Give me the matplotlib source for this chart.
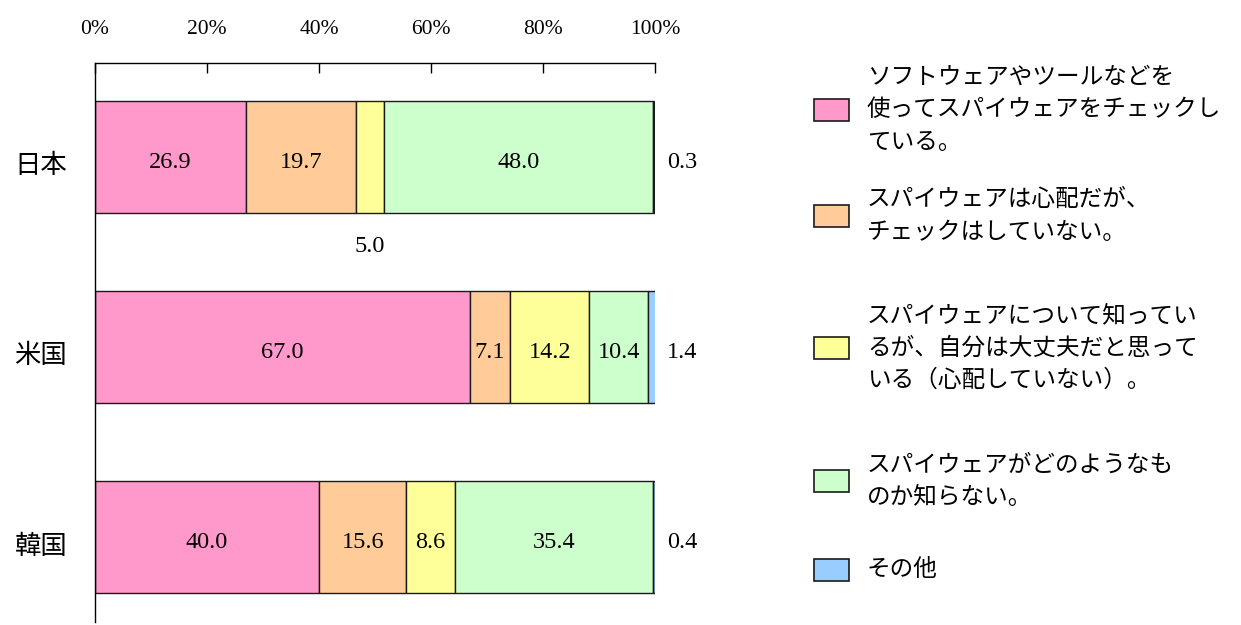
import matplotlib.pyplot as plt
import matplotlib.transforms as mtransforms
from matplotlib.patches import Rectangle
import numpy as np

plt.rcParams['font.family'] = ['Noto Sans CJK JP', 'DejaVu Sans']

countries = ['日本', '米国', '韓国']
categories = ['ソフトウェアやツールなどを\n使ってスパイウェアをチェックし\nている。',
              'スパイウェアは心配だが、\nチェックはしていない。',
              'スパイウェアについて知ってい\nるが、自分は大丈夫だと思って\nいる（心配していない）。',
              'スパイウェアがどのようなも\nのか知らない。',
              'その他']
colors = ['#FF99CC', '#FFCC99', '#FFFF99', '#CCFFCC', '#99CCFF']
values = np.array([
    [26.9, 19.7, 5.0, 48.0, 0.3],
    [67.0, 7.1, 14.2, 10.4, 1.4],
    [40.0, 15.6, 8.6, 35.4, 0.4],
])
xticks = [0, 20, 40, 60, 80, 100]
xticklabels = ['0%', '20%', '40%', '60%', '80%', '100%']

serif = 'Liberation Serif'

fig = plt.figure(figsize=(12.41, 6.25), dpi=100)
ax = fig.add_axes([95 / 1241, 3 / 625, 560 / 1241, 559 / 625])

y = np.arange(len(countries))
left = np.zeros(len(countries))
dy = 0.03  # digits sit a little below the bar centre
for j in range(len(categories)):
    ax.barh(y, values[:, j], left=left, height=0.59, color=colors[j],
            edgecolor='#1a1a1a', linewidth=1.0)
    for i in range(len(countries)):
        v = values[i, j]
        cx = left[i] + v / 2
        if j == 4:
            ax.text(102.2, y[i] + dy, f'{v:.1f}', ha='left', va='center',
                    fontsize=17.5, family=serif)
        elif i == 0 and j == 2:
            ax.text(cx, y[i] + 0.47, f'{v:.1f}', ha='center', va='center',
                    fontsize=17.5, family=serif)
        else:
            ax.text(cx, y[i] + dy, f'{v:.1f}', ha='center', va='center',
                    fontsize=17.5, family=serif)
    left += values[:, j]

ax.set_xlim(0, 100)
ax.set_ylim(2.446, -0.493)
ax.xaxis.tick_top()
ax.set_xticks(xticks)
ax.set_xticklabels(xticklabels, family=serif, fontsize=15.5)
ax.tick_params(axis='x', direction='in', length=7, pad=17, width=1.0)
ax.set_yticks(y)
ax.set_yticklabels(countries, fontsize=19)
ax.tick_params(axis='y', length=0, pad=20)
shift = mtransforms.ScaledTranslation(0, -6 / 100, fig.dpi_scale_trans)
for lab in ax.get_yticklabels():
    lab.set_transform(lab.get_transform() + shift)
ax.spines['right'].set_visible(False)
ax.spines['bottom'].set_visible(False)
for s in ['top', 'left']:
    ax.spines[s].set_linewidth(1.0)

# legend drawn by hand to match the layout
leg_y = [110, 216, 348, 481, 570]
for j, lab in enumerate(categories):
    yy = 1 - leg_y[j] / 625
    fig.add_artist(Rectangle((814 / 1241, yy - 11 / 625), 35 / 1241, 22 / 625,
                             transform=fig.transFigure, facecolor=colors[j],
                             edgecolor='#1a1a1a', linewidth=1.2))
    fig.text(867 / 1241, yy, lab, ha='left', va='center', fontsize=17,
             linespacing=1.52)

fig.savefig('out.png', dpi=100)
